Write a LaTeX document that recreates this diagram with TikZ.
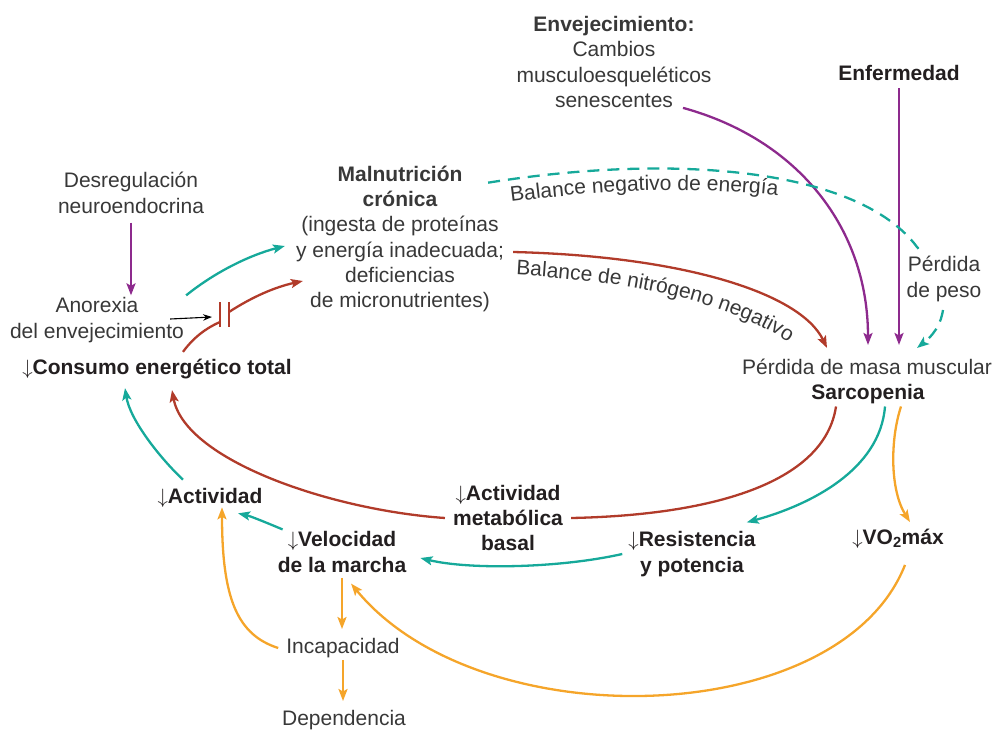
\documentclass[tikz,border=0pt]{standalone}
\usepackage{fontspec}
\setmainfont{Liberation Sans}
\usetikzlibrary{arrows.meta,decorations.text}
\definecolor{inkgray}{HTML}{383838}
\definecolor{inkdark}{HTML}{231F20}
\definecolor{tealc}{HTML}{16A99A}
\definecolor{rustc}{HTML}{B13B2A}
\definecolor{plumc}{HTML}{8D2A8D}
\definecolor{amberc}{HTML}{F5A52A}

\begin{document}
\begin{tikzpicture}[
    x=1pt, y=-1pt,
    every node/.style={font=\fontsize{21}{25.3}\selectfont, text=inkgray, align=center, inner sep=2pt},
    hdr/.style={font=\fontsize{21}{25.3}\selectfont\bfseries, text=inkdark},
    link/.style={line width=2.3pt, -{Stealth[length=12pt, width=9pt, inset=2.5pt]}},
    tealarrow/.style={link, draw=tealc},
    rustarrow/.style={link, draw=rustc},
    plumarrow/.style={link, draw=plumc},
    amberarrow/.style={link, draw=amberc},
    rustline/.style={line width=2.3pt, draw=rustc}
]
    \useasboundingbox (0,0) rectangle (996,734);

    % Causes (top row)
    \node (env) at (614,62) {\textbf{Envejecimiento:}\\Cambios\\musculoesqueléticos\\senescentes};
    \node[hdr] (enf) at (899,72.5) {Enfermedad};
    \node (desreg) at (131,193) {Desregulación\\neuroendocrina};
    \node (anorexia) at (97,320) {Anorexia\\del envejecimiento};
    \node[hdr] (consumo) at (157,369) {$\downarrow$Consumo energético total};
    \node (malnut) at (400,239) {\textbf{Malnutrición}\\\textbf{crónica}\\(ingesta de proteínas\\y energía inadecuada;\\deficiencias\\de micronutrientes)};
    \node[inner ysep=14pt] (musc) at (867,367) {Pérdida de masa muscular};
    \node[hdr] (sarc) at (868,394.5) {Sarcopenia};

    % Consequences (bottom row)
    \node[hdr] (activ) at (210,497.5) {$\downarrow$Actividad};
    \node[hdr, inner xsep=8pt] (metab) at (508,518) {$\downarrow$Actividad\\metabólica\\basal};
    \node[hdr] (veloc) at (342,552) {$\downarrow$Velocidad\\de la marcha};
    \node[hdr] (resist) at (692,554) {$\downarrow$Resistencia\\y potencia};
    \node[hdr] (vo2) at (898,539) {$\downarrow$VO\textsubscript{2}máx};
    \node (incap) at (343,648) {Incapacidad};
    \node (depend) at (344,720) {Dependencia};

    % Purple inputs
    \draw[plumarrow, shorten <=7pt] (desreg.south) -- (desreg.south |- anorexia.north);
    \draw[plumarrow] ([shift={(69,-2)}]env.south) .. controls (800,140) and (868,230) .. ([shift={(1,0)}]musc.north);
    \draw[plumarrow, shorten <=6pt] (enf.south) -- (enf.south |- musc.north);

    % Energy balance (dashed) and nitrogen balance
    \draw[tealarrow, dash pattern=on 12pt off 8pt] ([shift={(-18,19)}]malnut.north east)
        .. controls (680,152) and (860,170) .. (917,247)
        .. controls (952,285) and (950,322) .. ([shift={(50,3)}]musc.north);
    \node[fill=white] (peso) at (944,279) {Pérdida\\de peso};
    \path[decorate, decoration={text along path, text align=left,
        text={|\fontsize{21}{25.3}\selectfont\color{inkgray}|Balance negativo de energía}}]
        (511,202) .. controls (620,188) and (700,186) .. (800,198);
    \draw[rustarrow] ([shift={(7,13)}]malnut.east) .. controls (680,256) and (800,292) .. ([shift={(-40,3)}]musc.north);
    \path[decorate, decoration={text along path, text align=left,
        text={|\fontsize{21}{25.3}\selectfont\color{inkgray}|Balance de nitrógeno negativo}}]
        (516,275) .. controls (640,282) and (735,303) .. (800,350);

    % Anorexia towards malnutrition
    \draw[tealarrow] (anorexia.north east) .. controls (215,272) and (250,255) .. ([shift={(-9,7)}]malnut.west);
    \coordinate (blk) at (224,317);
    \draw[rustline] ([shift={(26,-5)}]consumo.north) .. controls (193,338) and (206,328) .. ([shift={(-4,5)}]blk);
    \draw[rustline] ([shift={(-4,-15)}]blk) -- ([shift={(-4,10)}]blk);
    \draw[rustline] ([shift={(5,-15)}]blk) -- ([shift={(5,10)}]blk);
    \draw[rustarrow] ([shift={(5,-5)}]blk) .. controls (252,297) and (275,287) .. ([shift={(9,42)}]malnut.west);
    \draw[line width=1.1pt, -{Stealth[length=9pt, width=6.5pt]}] ([shift={(-16,-1)}]anorexia.east) -- ([shift={(-12,0)}]blk);

    % Loop back through basal metabolism
    \draw[rustline] ([shift={(-32,0)}]sarc.south) .. controls (825,480) and (720,515) .. (metab.east);
    \draw[rustarrow] (metab.west) .. controls (330,510) and (185,460) .. ([shift={(15,9)}]consumo.south);

    % Strength, gait and activity
    \draw[tealarrow] ([shift={(17,0)}]sarc.south) .. controls (880,470) and (810,505) .. ([shift={(-11,-7)}]resist.north east);
    \draw[tealarrow] ([shift={(-4,0)}]resist.west) .. controls (560,568) and (470,570) .. ([shift={(12,6)}]veloc.east);
    \draw[tealarrow] ([shift={(7,0)}]veloc.north west) .. controls (265,522) and (250,516) .. ([shift={(28,4)}]activ.south);
    \draw[tealarrow] ([shift={(-27,-6)}]activ.north) .. controls (160,458) and (130,420) .. ([shift={(-32,7)}]consumo.south);

    % Aerobic capacity, disability, dependence
    \draw[amberarrow] ([shift={(33,0)}]sarc.south) .. controls (890,440) and (890,490) .. ([shift={(12,-5)}]vo2.north);
    \draw[amberarrow] ([shift={(7,14)}]vo2.south) .. controls (840,730) and (480,740) .. ([shift={(9,9)}]veloc.south);
    \draw[amberarrow, shorten <=3pt, shorten >=7pt] (veloc.south) -- (veloc.south |- incap.north);
    \draw[amberarrow, shorten >=7pt] (incap.south) -- (incap.south |- depend.north);
    \draw[amberarrow] ([shift={(-6,0)}]incap.west) .. controls (238,635) and (222,600) .. ([shift={(12,-2)}]activ.south);
\end{tikzpicture}
\end{document}
